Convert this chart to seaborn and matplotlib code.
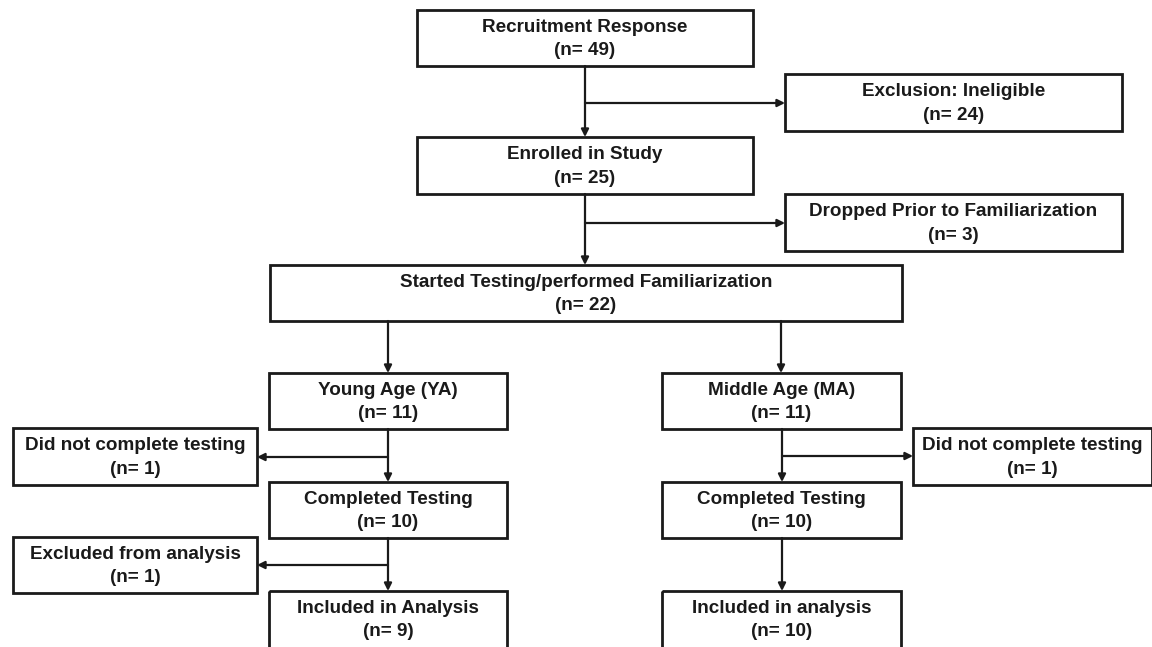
import seaborn as sns
import matplotlib.pyplot as plt
from matplotlib.patches import Rectangle

# Flow stages and participant counts
stages = ["Recruitment Response", "Exclusion: Ineligible", "Enrolled in Study",
          "Dropped Prior to Familiarization", "Started Testing/performed Familiarization",
          "Young Age (YA)", "Middle Age (MA)",
          "Did not complete testing", "Did not complete testing",
          "Completed Testing", "Completed Testing",
          "Excluded from analysis",
          "Included in Analysis", "Included in analysis"]
counts = [49, 24, 25, 3, 22, 11, 11, 1, 1, 10, 10, 1, 9, 10]

# box layout in pixels: (left, top, right, bottom)
boxes = [(417, 10, 753, 66), (785, 74, 1122, 131), (417, 137, 753, 194),
         (785, 194, 1122, 251), (270, 265, 902, 321),
         (269, 373, 507, 429), (662, 373, 901, 429),
         (13, 428, 257, 485), (913, 428, 1152, 485),
         (269, 482, 507, 538), (662, 482, 901, 538),
         (13, 537, 257, 593),
         (269, 591, 507, 650), (662, 591, 901, 650)]

# connectors: (x0, y0, x1, y1)
links = [(585, 66, 585, 137), (585, 103, 785, 103),
         (585, 194, 585, 265), (585, 223, 785, 223),
         (388, 321, 388, 373), (781, 321, 781, 373),
         (388, 429, 388, 482), (388, 457, 257, 457),
         (388, 538, 388, 591), (388, 565, 257, 565),
         (782, 429, 782, 482), (782, 456, 913, 456),
         (782, 538, 782, 591)]

sns.set_theme(style="white")
plt.rcParams['font.family'] = ['Liberation Sans', 'DejaVu Sans']

fig = plt.figure(figsize=(11.52, 6.47), dpi=100)
ax = fig.add_axes([0, 0, 1, 1])
ax.set_xlim(0, 1152)
ax.set_ylim(647, 0)
ax.axis('off')

ink = '#1a1a1a'

for (l, t, r, b), name, n in zip(boxes, stages, counts):
    ax.add_patch(Rectangle((l, t), r - l, b - t, fill=False, ec=ink, lw=2))
    ax.text((l + r) / 2, (t + min(b, 647)) / 2 + 1, f"{name}\n(n= {n})",
            ha='center', va='center', fontsize=13.6, fontweight='bold',
            color=ink, linespacing=1.5)

for x0, y0, x1, y1 in links:
    ax.annotate("", xy=(x1, y1), xytext=(x0, y0),
                arrowprops=dict(arrowstyle='-|>', color=ink,
                                lw=1.6, mutation_scale=11, shrinkA=0, shrinkB=0))

plt.savefig("out.png", dpi=100)
